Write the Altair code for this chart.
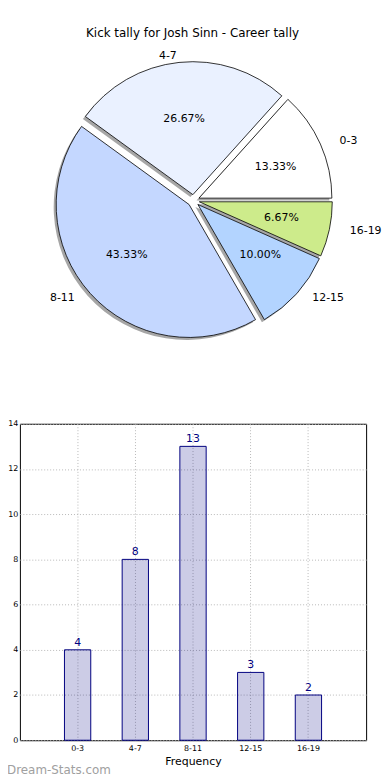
import altair as alt
import pandas as pd

# ---- data ----
cats = ["0-3", "4-7", "8-11", "12-15", "16-19"]
counts = [4, 8, 13, 3, 2]
pie_colors = ["#ffffff", "#eaf1ff", "#c4d7ff", "#b3d4ff", "#cdeb8b"]
title_text = "Kick tally for Josh Sinn - Career tally"
x_title = "Frequency"
y_title = "Number of games"
watermark = "Dream-Stats.com"

df = pd.DataFrame({"cat": cats, "count": counts, "idx": list(range(len(cats))), "color": pie_colors})

FONT = "DejaVu Sans"
NAVY = "#000080"

# pie geometry (pixels inside pie view)
PW, PH = 349, 390
CX, CY, R, EXP = 175, 191, 134, 6
RX, RY = 141, 128  # label placement radii

base = (
    alt.Chart(df)
    .transform_window(cum="sum(count)", sort=[alt.SortField("idx", order="ascending")])
    .transform_joinaggregate(total="sum(count)")
    .transform_calculate(
        a0="2*PI*(datum.cum-datum.count)/datum.total",
        a1="2*PI*datum.cum/datum.total",
    )
    .transform_calculate(th1="5*PI/2 - datum.a1", th2="5*PI/2 - datum.a0")
    .transform_calculate(mid="(datum.th1+datum.th2)/2")
    .transform_calculate(
        cx=f"{CX} + {EXP}*sin(datum.mid)",
        cy=f"{CY} - {EXP}*cos(datum.mid)",
        pct="format(100*datum.count/datum.total, '.2f') + '%'",
    )
    .transform_calculate(
        px=f"datum.cx + {0.6 * RX}*sin(datum.mid)",
        py=f"datum.cy - {0.6 * RY}*cos(datum.mid)",
        lx=f"datum.cx + {1.1 * RX}*sin(datum.mid)",
        ly=f"datum.cy - {1.1 * RY}*cos(datum.mid)",
        right="sin(datum.mid) > 0",
    )
)

pos = dict(x=alt.X("cx:Q", scale=None), y=alt.Y("cy:Q", scale=None))
ang = dict(theta=alt.Theta("th1:Q", scale=None, stack=False), theta2=alt.Theta2("th2:Q"))

shadow = base.mark_arc(radius=R, fill="#000000", fillOpacity=0.35, xOffset=-2.5, yOffset=2.5).encode(**pos, **ang)
arcs = base.mark_arc(radius=R, stroke="black", strokeWidth=0.8).encode(
    **pos, **ang, fill=alt.Fill("color:N", scale=None)
)
pcts = base.mark_text(font=FONT, fontSize=11, color="black", baseline="middle").encode(
    x=alt.X("px:Q", scale=None), y=alt.Y("py:Q", scale=None), text="pct:N"
)
lab_r = base.transform_filter("datum.right").mark_text(
    font=FONT, fontSize=11, color="black", align="left", baseline="middle"
).encode(x=alt.X("lx:Q", scale=None), y=alt.Y("ly:Q", scale=None), text="cat:N")
lab_l = base.transform_filter("!datum.right").mark_text(
    font=FONT, fontSize=11, color="black", align="right", baseline="middle"
).encode(x=alt.X("lx:Q", scale=None), y=alt.Y("ly:Q", scale=None), text="cat:N")

ttl = alt.Chart(pd.DataFrame({"t": [title_text]})).mark_text(
    font=FONT, fontSize=12, color="black", baseline="middle"
).encode(text="t:N", x=alt.value(174), y=alt.value(22))

pie = alt.layer(shadow, arcs, pcts, lab_r, lab_l, ttl).properties(
    width=PW, height=PH, view=alt.ViewBackground(stroke=None)
)

# ---- bar chart ----
BW, BH = 349, 319
xenc = alt.X(
    "cat:N",
    sort=cats,
    scale=alt.Scale(paddingInner=0, paddingOuter=0.5),
    axis=alt.Axis(
        title=x_title, labelAngle=0, labelFontSize=8, labelFont=FONT, labelColor="black",
        titleFont=FONT, titleFontSize=11, titleFontWeight="normal", titleColor="black",
        titlePadding=3, ticks=False, labelPadding=4, domain=False, bandPosition=0.5,
        grid=True, gridColor="#b8b8b8", gridDash=[1, 2], gridWidth=1,
    ),
)
yenc = alt.Y(
    "count:Q",
    scale=alt.Scale(domain=[0, 14], nice=False),
    axis=alt.Axis(
        title=y_title, values=list(range(0, 15, 2)), labelFontSize=8, labelFont=FONT,
        labelColor="black", titleFont=FONT, titleFontSize=10, titleFontWeight="normal",
        titleColor="black", titlePadding=4, ticks=False, labelPadding=2, domain=False,
        grid=True, gridColor="#b8b8b8", gridDash=[1, 2], gridWidth=1,
    ),
)
bars = alt.Chart(df).mark_bar(
    width=26.5, fill=NAVY, fillOpacity=0.2, stroke=NAVY, strokeWidth=1
).encode(x=xenc, y=yenc)
vals = alt.Chart(df).mark_text(font=FONT, fontSize=11, color=NAVY, dy=-7).encode(
    x=alt.X("cat:N", sort=cats), y="count:Q", text="count:Q"
)
wm = alt.Chart(pd.DataFrame({"t": [watermark]})).mark_text(
    font=FONT, fontSize=12, color="#a0a0a0", align="left", baseline="middle"
).encode(text="t:N", x=alt.value(-13), y=alt.value(349))

barchart = alt.layer(bars, vals, wm).properties(
    width=BW, height=BH, view=alt.ViewBackground(stroke="black", strokeWidth=1)
)

chart = (
    alt.vconcat(pie, barchart, spacing=21)
    .properties(padding={"left": -15, "top": 0, "right": 0, "bottom": 0})
    .configure_view(stroke=None)
    .configure(background="white")
)

chart.save("out.html", embed_options={"renderer": "svg", "actions": False})
